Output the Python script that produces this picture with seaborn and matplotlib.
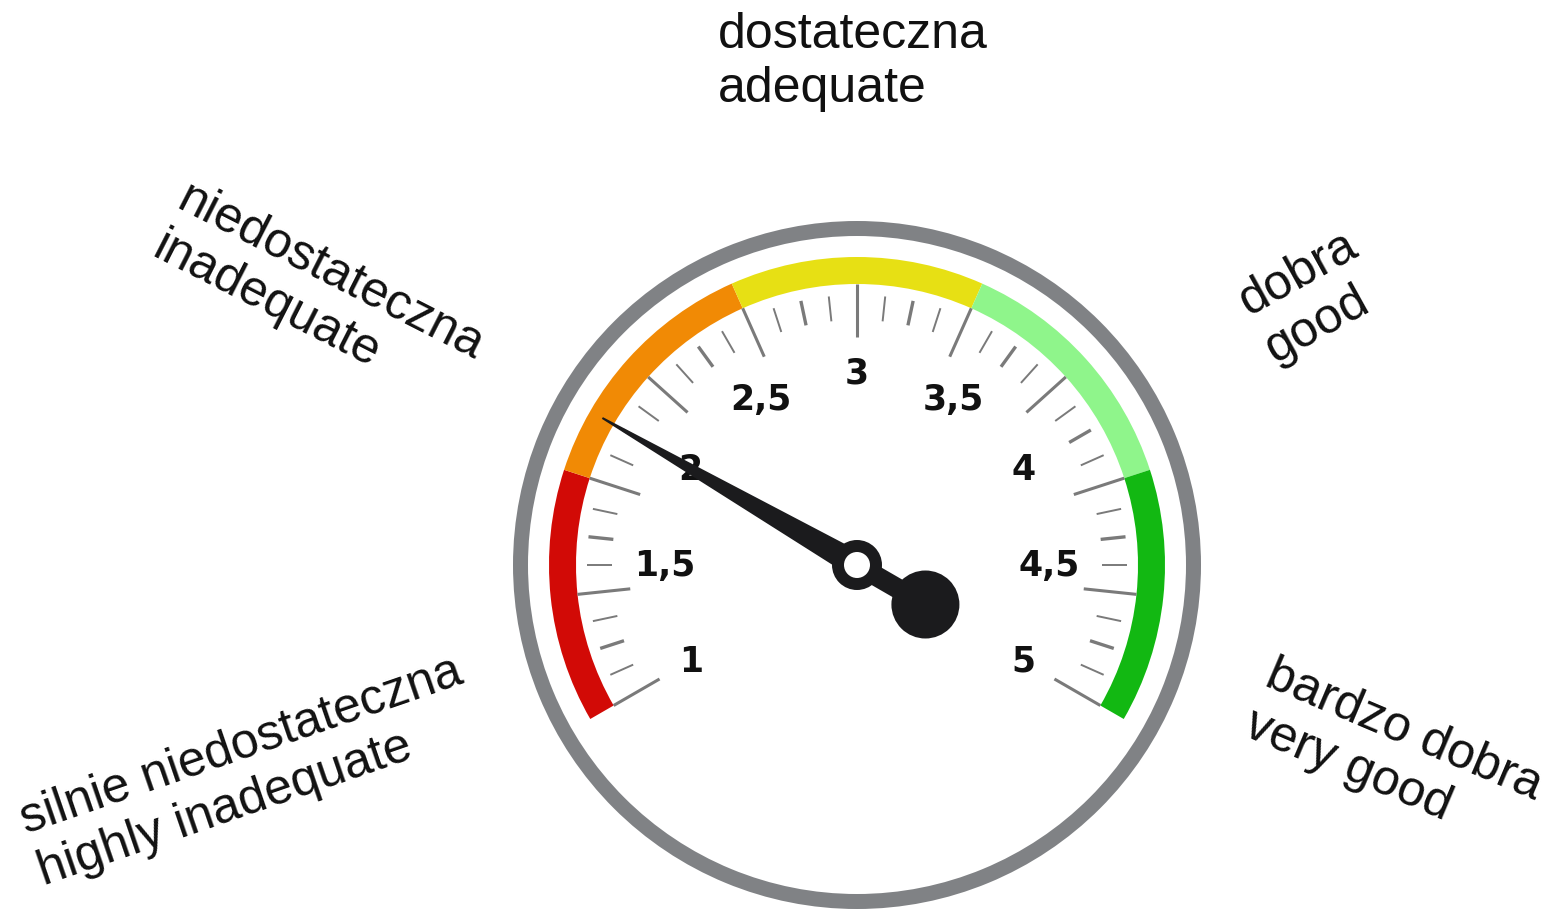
import numpy as np
import matplotlib
matplotlib.use("Agg")
import matplotlib.pyplot as plt
from matplotlib.patches import Wedge, Circle, Polygon
import seaborn as sns

# Gauge data
segment_edges = [1.0, 1.8, 2.6, 3.4, 4.2, 5.0]
segment_colors = ["#d20a06", "#f18a05", "#e7e014", "#8ff58b", "#12b812"]
category_names = [
    "silnie niedostateczna\nhighly inadequate",
    "niedostateczna\ninadequate",
    "dostateczna\nadequate",
    "dobra\ngood",
    "bardzo dobra\nvery good",
]
label_values = [1.0, 1.5, 2.0, 2.5, 3.0, 3.5, 4.0, 4.5, 5.0]
label_texts = ["1", "1,5", "2", "2,5", "3", "3,5", "4", "4,5", "5"]
major_ticks = [1.0, 1.4, 1.8, 2.2, 2.6, 3.0, 3.4, 3.8, 4.2, 4.6, 5.0]
needle_value = 2.0

# Layout (pixel coordinates, y up)
W, H = 1555, 912
cx, cy = 857, 346
v_min, v_max = 1.0, 5.0
a_min, a_max = 210.0, -30.0
cat_pos = [(250, 140), (318, 615), (853, 850), (1312, 615), (1393, 156)]
cat_rot = [19, -27, 0, 29, -23]


def angle(v):
    return a_min + (a_max - a_min) * (v - v_min) / (v_max - v_min)


def pol(v, r):
    t = np.deg2rad(angle(v))
    return cx + r * np.cos(t), cy + r * np.sin(t)


sns.set_theme(style="white")
plt.rcParams["font.family"] = ["Liberation Sans", "DejaVu Sans"]

fig = plt.figure(figsize=(W / 100, H / 100), dpi=100)
ax = fig.add_axes([0, 0, 1, 1])
ax.set_xlim(0, W)
ax.set_ylim(0, H)
ax.set_aspect("equal")
ax.axis("off")

# outer grey ring
ax.add_patch(Wedge((cx, cy), 344, 0, 360, width=15, color="#808285", lw=0))

# coloured band
for lo, hi, col in zip(segment_edges[:-1], segment_edges[1:], segment_colors):
    ax.add_patch(Wedge((cx, cy), 308, angle(hi), angle(lo), width=27, color=col, lw=0))

# ticks
for v in major_ticks:
    x0, y0 = pol(v, 228)
    x1, y1 = pol(v, 281)
    ax.plot([x0, x1], [y0, y1], color="#7a7a7a", lw=2.2, solid_capstyle="butt")
for v in np.arange(1.1, 5.0, 0.1):
    k = int(round((v - 1.0) * 10)) % 4
    if k == 0:
        continue
    x0, y0 = pol(v, 245)
    x1, y1 = pol(v, 270)
    ax.plot([x0, x1], [y0, y1], color="#7a7a7a", lw=2.4 if k == 2 else 1.4,
            solid_capstyle="butt")

# scale labels
for v, s in zip(label_values, label_texts):
    x, y = pol(v, 192)
    ax.text(x, y, s, ha="center", va="center", fontsize=25, fontweight="bold",
            family=["DejaVu Sans"], color="#111111", zorder=3)

# category labels
for name, (x, y), rot in zip(category_names, cat_pos, cat_rot):
    ax.text(x, y, name, ha="center", va="center", multialignment="left",
            rotation=rot, fontsize=36, color="#111111", linespacing=1.22)

# needle
t = np.deg2rad(angle(needle_value))
u = np.array([np.cos(t), np.sin(t)])
n = np.array([-np.sin(t), np.cos(t)])
c = np.array([cx, cy])
needle = [c + 13 * n, c + 294 * u + 1 * n, c + 294 * u - 1 * n, c - 13 * n]
ax.add_patch(Polygon(needle, closed=True, color="#1b1b1d", lw=0, zorder=5))
tail = [c + 10 * n, c - 79 * u + 10 * n, c - 79 * u - 10 * n, c - 10 * n]
ax.add_patch(Polygon(tail, closed=True, color="#1b1b1d", lw=0, zorder=5))
ax.add_patch(Circle(tuple(c - 79 * u), 34, color="#1b1b1d", lw=0, zorder=5))
ax.add_patch(Circle((cx, cy), 25, color="#1b1b1d", lw=0, zorder=6))
ax.add_patch(Circle((cx, cy), 13, color="white", lw=0, zorder=7))

fig.savefig("out.png", dpi=100, facecolor="white")
